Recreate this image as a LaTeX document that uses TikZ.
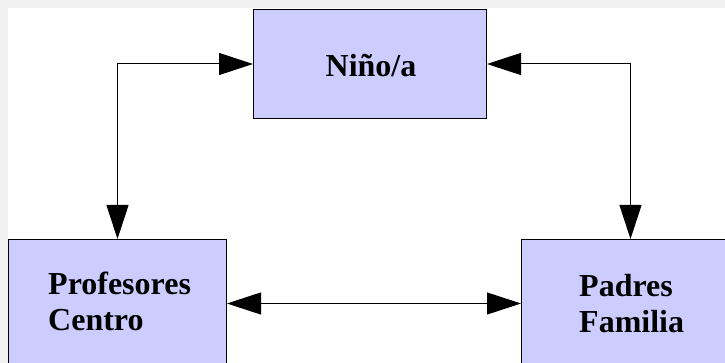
\documentclass[tikz,border=0pt]{standalone}
\usepackage{fontspec}
\setmainfont{Liberation Serif}
\usetikzlibrary{arrows.meta}
\definecolor{boxfill}{HTML}{CCCCFF}
\definecolor{bgray}{HTML}{F0F0F0}
\tikzset{
  box/.style={draw=black, line width=1pt, fill=boxfill, rectangle, inner sep=0pt},
  lbl/.style={font=\fontsize{32}{36}\selectfont\bfseries, inner sep=0pt, align=left},
  conn/.style={line width=1pt, {Triangle[length=34pt,width=22pt]}-{Triangle[length=34pt,width=22pt]}}
}
\begin{document}
\begin{tikzpicture}[x=1pt,y=-1pt]
\useasboundingbox (0,0) rectangle (725,363);
\clip (0,0) rectangle (725,363);
\fill[bgray] (0,0) rectangle (725,363);
\fill[white] (8,8) rectangle (760,400);
\node[box, anchor=north west, minimum width=233pt, minimum height=109pt] (nino) at (253,9) {};
\node[lbl, anchor=base] (ninotxt) at (371,77) {Niño/a};
\node[box, anchor=north west, minimum width=218pt, minimum height=128pt] (prof) at (8,239) {};
\node[box, anchor=north west, minimum width=218pt, minimum height=128pt] (padres) at (521,239) {};
\node[lbl, anchor=north west] (proftxt) at (48,271.5) {Profesores\\Centro};
\node[lbl, anchor=north west] (padtxt) at (579,274.5) {Padres\\Familia};
\draw[conn] (nino.west) -| (prof.north);
\draw[conn] (nino.east) -| (padres.north);
\draw[conn] (prof.east) -- (padres.west);
\end{tikzpicture}
\end{document}
